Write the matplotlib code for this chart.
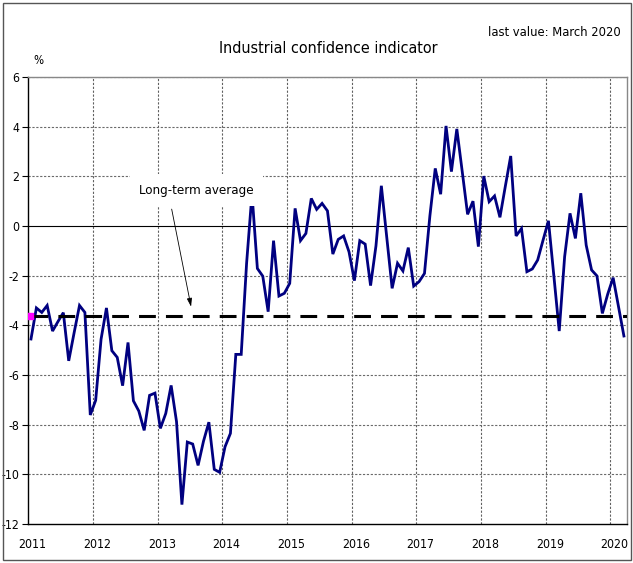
import numpy as np
import matplotlib.pyplot as plt
from matplotlib.patches import Rectangle

plt.rcParams['font.family'] = ['DejaVu Sans']
plt.rcParams['font.stretch'] = 'condensed'

years = [2011, 2012, 2013, 2014, 2015, 2016, 2017, 2018, 2019, 2020]

# monthly values, Jan 2011 - Mar 2020
confidence = [
    -4.55, -3.3, -3.48, -3.2, -4.23, -3.85, -3.49, -5.43, -4.3, -3.2, -3.48, -7.61,
    -7.02, -4.56, -3.3, -5.02, -5.29, -6.43, -4.69, -7.04, -7.45, -8.23, -6.82, -6.73,
    -8.15, -7.55, -6.42, -7.88, -11.22, -8.7, -8.78, -9.64, -8.67, -7.9, -9.8, -9.92,
    -8.89, -8.35, -5.17, -5.17, -1.5, 1.3, -1.71, -2.02, -3.45, -0.59, -2.82, -2.71,
    -2.31, 0.71, -0.59, -0.3, 1.11, 0.67, 0.91, 0.61, -1.13, -0.54, -0.4, -1.04,
    -2.2, -0.59, -0.73, -2.4, -0.8, 1.62, -0.45, -2.51, -1.5, -1.81, -0.87, -2.42,
    -2.24, -1.91, 0.4, 2.32, 1.28, 4.03, 2.19, 3.91, 2.2, 0.47, 1.0, -0.83,
    2.01, 0.98, 1.21, 0.35, 1.6, 2.82, -0.4, -0.1, -1.84, -1.73, -1.37, -0.57,
    0.21, -2.0, -4.23, -1.24, 0.51, -0.5, 1.32, -0.77, -1.77, -2.01, -3.52, -2.74,
    -2.08, -3.25, -4.43,
]
long_term_avg = -3.62

n = len(confidence)
x = np.arange(n) + 0.5

fig = plt.figure(figsize=(6.33, 5.63), dpi=100)
ax = fig.add_axes([0.0447, 0.0693, 0.9452, 0.7939])

# grid
year_pos = [12 * i for i in range(len(years))]
for xp in year_pos[1:]:
    ax.axvline(xp, color='#606060', lw=0.8, ls=(0, (2, 1.5)), zorder=1)
for yv in range(-10, 7, 2):
    if yv == 0:
        ax.axhline(yv, color='black', lw=0.8, zorder=1)
    else:
        ax.axhline(yv, color='#6a6a6a', lw=0.8, ls=(0, (2, 1.5)), zorder=1)

ax.plot(x, confidence, color='#000080', lw=2.0, zorder=3, solid_joinstyle='miter')
ax.plot([x[0], n], [long_term_avg, long_term_avg], color='black', lw=2.2,
        dashes=(5.5, 3.3), zorder=4)
ax.plot([x[0] - 0.2], [long_term_avg], marker='s', color='#ff00ff', ms=4.5,
        mec='#ff00ff', zorder=5)

# label box hides the top of the 2014 spike, like the original
ax.text(31.2, 1.45, 'Long-term average', ha='center', va='center', fontsize=9.5,
        bbox=dict(boxstyle='square,pad=0.7', fc='white', ec='none'), zorder=6)
ax.annotate('', xy=(30.2, -3.25), xytext=(26.6, 0.68),
            arrowprops=dict(arrowstyle='-|>,head_width=0.15,head_length=0.5',
                            color='black', lw=0.6, shrinkA=0, shrinkB=0),
            zorder=6)

ax.set_xlim(0, n)
ax.set_ylim(-12, 6)
ax.set_yticks(range(-12, 7, 2))
ax.set_yticklabels([str(v) for v in range(-12, 7, 2)], fontsize=8.8)
ax.set_xticks([p + 0.8 for p in year_pos])
ax.set_xticklabels([str(y) for y in years], fontsize=8.8)
ax.tick_params(axis='x', length=0, pad=10)
ax.tick_params(axis='y', length=4, width=0.8, pad=2.5, direction='out')

for side in ['top', 'right']:
    ax.spines[side].set_color('#888888')
    ax.spines[side].set_linewidth(1.0)
for side in ['left', 'bottom']:
    ax.spines[side].set_color('black')
    ax.spines[side].set_linewidth(1.0)

fig.text(0.518, 0.914, 'Industrial confidence indicator', ha='center', va='center',
         fontsize=11.5)
fig.text(0.98, 0.943, 'last value: March 2020', ha='right', va='center', fontsize=9.3)
fig.text(0.06, 0.893, '%', ha='center', va='center', fontsize=8.5)

fig.patches.append(Rectangle((3 / 633, 3 / 563), 628 / 633, 557 / 563,
                             transform=fig.transFigure, fill=False,
                             ec='#555555', lw=1.0))

fig.savefig('out.png', dpi=100)
